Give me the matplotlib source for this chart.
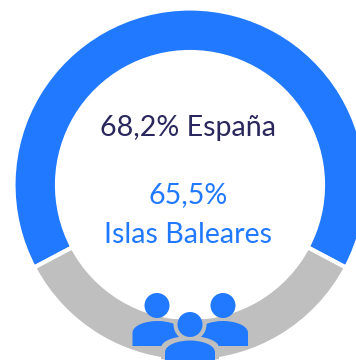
import matplotlib
matplotlib.use("Agg")
import matplotlib.pyplot as plt
from matplotlib.patches import Circle, PathPatch, Wedge
from matplotlib.path import Path

valores = [65.5, 34.5]
colores = ["#2179FF", "#BFBFBF"]
azul = "#2179FF"
gris = "#BFBFBF"
oscuro = "#29275C"

plt.rcParams["font.family"] = ["Lato", "DejaVu Sans"]

fig = plt.figure(figsize=(3.56, 3.60), dpi=100)
ax = fig.add_axes([0, 0, 1, 1])

# el eje y va invertido, asi que el azul queda centrado arriba (270)
inicio = 270 - valores[0] * 1.8
ax.pie(valores, colors=colores, radius=176.5, center=(190, 185), startangle=inicio,
       wedgeprops=dict(width=43.5, edgecolor="white", linewidth=3.0))
ax.set_xlim(0, 356)
ax.set_ylim(360, 0)
ax.set_aspect("equal")
ax.axis("off")


def cuerpo(cx, arriba, abajo, ancho):
    # hombros redondeados, base plana
    v = [(cx - ancho, abajo), (cx - ancho, arriba + 12),
         (cx - ancho, arriba + 4), (cx - ancho * 0.45, arriba), (cx, arriba),
         (cx + ancho * 0.45, arriba), (cx + ancho, arriba + 4), (cx + ancho, arriba + 12),
         (cx + ancho, abajo), (cx - ancho, abajo)]
    c = [Path.MOVETO, Path.LINETO, Path.CURVE4, Path.CURVE4, Path.CURVE4,
         Path.CURVE4, Path.CURVE4, Path.CURVE4, Path.LINETO, Path.CLOSEPOLY]
    return Path(v, c)


for cx in [157, 223]:
    ax.add_patch(Circle((cx, 305.5), 12.5, color=azul, lw=0))
ax.add_patch(PathPatch(cuerpo(157.5, 321, 346, 25), color=azul, lw=0))
ax.add_patch(PathPatch(cuerpo(223, 321, 346, 25), color=azul, lw=0))

# persona central: el halo gris solo se ve dentro del anillo
anillo = Wedge((190, 185), 176.5, 0, 360, width=41.5, transform=ax.transData)
halo_cabeza = ax.add_patch(Circle((190, 324.5), 16.5, color=gris, lw=0))
halo_cuerpo = ax.add_patch(PathPatch(cuerpo(190, 336, 365, 29), color=gris, lw=0))
halo_cabeza.set_clip_path(anillo)
halo_cuerpo.set_clip_path(anillo)
ax.add_patch(Circle((190, 324.5), 12.5, color=azul, lw=0))
ax.add_patch(PathPatch(cuerpo(190, 340.5, 365, 25), color=azul, lw=0))

ax.text(188.5, 136, "68,2% España", color=oscuro, fontsize=20.6, ha="center", va="baseline")
ax.text(188.5, 203, "65,5%", color=azul, fontsize=20.6, ha="center", va="baseline")
ax.text(188.5, 243, "Islas Baleares", color=azul, fontsize=20.6, ha="center", va="baseline")

fig.savefig("out.png", dpi=100)
